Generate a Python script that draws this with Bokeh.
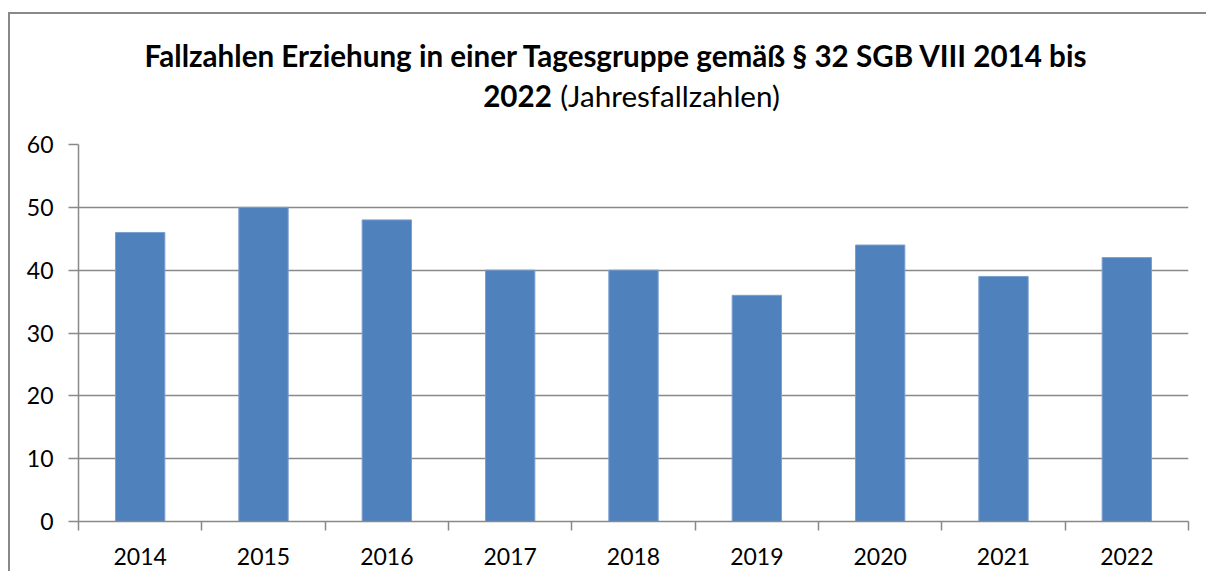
from bokeh.plotting import figure
from bokeh.layouts import column
from bokeh.models import Range1d, FixedTicker, Label, ColumnDataSource
from bokeh.embed import file_html
from bokeh.resources import INLINE

years = ["2014", "2015", "2016", "2017", "2018", "2019", "2020", "2021", "2022"]
cases = [46, 50, 48, 40, 40, 36, 44, 39, 42]
y_ticks = [0, 10, 20, 30, 40, 50, 60]
title_line1 = "Fallzahlen Erziehung in einer Tagesgruppe gemäß § 32 SGB VIII 2014 bis"
title_line2_bold = "2022"
title_line2_normal = "(Jahresfallzahlen)"

GRAY = "#898989"
BAR = "#4F81BD"
FONT = "Lato"
W = 1196
TITLE_SIZE = "29.6px"

# ---- title strip ----
t = figure(title=None, width=W, height=114, output_backend="svg", toolbar_location=None,
           x_range=Range1d(10, 10 + W), y_range=Range1d(128, 14),
           x_axis_location=None, y_axis_location=None, min_border=0)
t.grid.visible = False
t.outline_line_color = None
t.border_fill_color = "white"
t.add_layout(Label(x=590, y=55, text=title_line1, text_align="center", text_baseline="alphabetic",
                   text_font=FONT, text_font_style="bold", text_font_size=TITLE_SIZE, text_color="black"))
t.add_layout(Label(x=520, y=95, text=title_line2_bold, text_align="right", text_baseline="alphabetic",
                   text_font=FONT, text_font_style="bold", text_font_size=TITLE_SIZE, text_color="black"))
t.add_layout(Label(x=529, y=95, text=title_line2_normal, text_align="left", text_baseline="alphabetic",
                   text_font=FONT, text_font_size=TITLE_SIZE, text_color="black"))

# ---- chart ----
n = len(years)
centers = [i + 0.5 for i in range(n)]
src = ColumnDataSource(dict(x=centers, y=cases, year=years))

p = figure(width=W, height=443, output_backend="svg", toolbar_location=None,
           x_range=Range1d(0, n), y_range=Range1d(0, 60),
           min_border_left=68, min_border_right=18, min_border_top=16, min_border_bottom=50)
p.outline_line_color = None
p.background_fill_color = "white"
p.border_fill_color = "white"

p.vbar(x="x", top="y", width=0.4, source=src, fill_color=BAR, line_color="#7A9FCF", line_width=1)

p.xaxis.ticker = FixedTicker(ticks=centers, minor_ticks=list(range(n + 1)))
p.xaxis.major_label_overrides = {c: y for c, y in zip(centers, years)}
p.xaxis.major_tick_line_color = None
p.xaxis.major_tick_out = 0
p.xaxis.major_tick_in = 0
p.xaxis.minor_tick_line_color = GRAY
p.xaxis.minor_tick_line_width = 1.5
p.xaxis.minor_tick_out = 9
p.xaxis.minor_tick_in = 0
p.xaxis.major_label_standoff = 17

p.yaxis.ticker = FixedTicker(ticks=y_ticks)
p.yaxis.major_tick_line_color = GRAY
p.yaxis.major_tick_line_width = 1.5
p.yaxis.major_tick_out = 10
p.yaxis.major_tick_in = 0
p.yaxis.minor_tick_line_color = None
p.yaxis.major_label_standoff = 15

for ax in (p.xaxis, p.yaxis):
    ax.axis_line_color = GRAY
    ax.axis_line_width = 1.5
    ax.major_label_text_font = FONT
    ax.major_label_text_font_size = "23px"
    ax.major_label_text_color = "black"

p.xgrid.grid_line_color = None
p.ygrid.grid_line_color = GRAY
p.ygrid.grid_line_width = 1.5

layout = column(t, p, spacing=0)
layout.styles = {"border-top": f"2px solid {GRAY}", "border-left": f"2px solid {GRAY}",
                 "margin-top": "12px", "margin-left": "8px"}

open("out.html", "w").write(file_html(layout, INLINE))
